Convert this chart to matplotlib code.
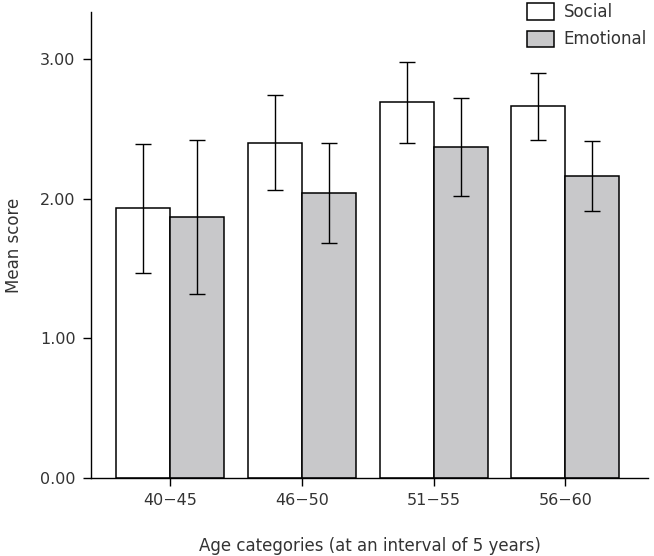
import numpy as np
import matplotlib.pyplot as plt

plt.rcParams['font.family'] = ['DejaVu Sans']

age_groups = ['40\u221245', '46\u221250', '51\u221255', '56\u221260']
social = [1.93, 2.40, 2.69, 2.66]
social_sd = [0.46, 0.34, 0.29, 0.24]
emotional = [1.87, 2.04, 2.37, 2.16]
emotional_sd = [0.55, 0.36, 0.35, 0.25]

fig = plt.figure(figsize=(6.54, 5.56), dpi=100)
ax = fig.add_axes([0.139, 0.1403, 0.852, 0.838])

x = np.arange(len(age_groups))
w = 0.41
txt = '#333333'

ax.bar(x - w / 2, social, w, color='white', edgecolor='black', linewidth=1.1,
       yerr=social_sd, capsize=5.5, error_kw=dict(elinewidth=1.0, capthick=1.0),
       label='Social')
ax.bar(x + w / 2, emotional, w, color='#c8c8ca', edgecolor='black', linewidth=1.1,
       yerr=emotional_sd, capsize=5.5, error_kw=dict(elinewidth=1.0, capthick=1.0),
       label='Emotional')

ax.set_xlim(-0.602, 3.628)
ax.set_ylim(0, 3.336)
ax.set_xticks(x)
ax.set_xticklabels(age_groups)
ax.set_yticks([0, 1, 2, 3])
ax.set_yticklabels(['0.00', '1.00', '2.00', '3.00'])
ax.tick_params(direction='out', length=6, width=1.0, labelsize=11.5, colors='black',
               labelcolor=txt, pad=5)
for s in ['top', 'right']:
    ax.spines[s].set_visible(False)
for s in ['left', 'bottom']:
    ax.spines[s].set_linewidth(1.0)

ax.set_ylabel('Mean score', fontsize=12, color=txt, labelpad=12)
ax.set_xlabel('Age categories (at an interval of 5 years)', fontsize=12, color=txt, labelpad=21)

fig.legend(loc='upper right', bbox_to_anchor=(1.012, 1.021), frameon=False, fontsize=12,
           handlelength=1.6, handleheight=1.15, handletextpad=0.6, labelspacing=0.55,
           labelcolor=txt)

fig.savefig('out.png', dpi=100)
